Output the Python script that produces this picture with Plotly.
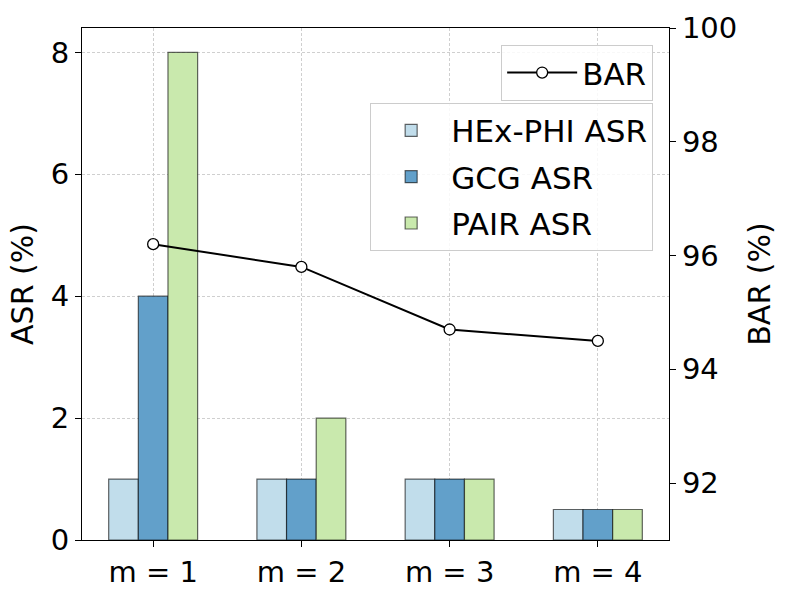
import plotly.graph_objects as go

### Données ###
categories = ["m = 1", "m = 2", "m = 3", "m = 4"]
hexphi_asr = [1, 1, 1, 0.5]
gcg_asr = [4, 1, 1, 0.5]
pair_asr = [8, 2, 1, 0.5]
bar_values = [96.2, 95.8, 94.7, 94.5]

asr_ticks = [0, 2, 4, 6, 8]
bar_ticks = [92, 94, 96, 98, 100]

FONT = "DejaVu Sans"
EDGE = "rgba(0,0,0,0.6)"
GRID = dict(showgrid=True, gridcolor="#cfcfcf", griddash="3px,2px", gridwidth=0.6)

fig = go.Figure()

# Barres ASR (axe gauche)
for name, vals, color in [
    ("HEx-PHI ASR", hexphi_asr, "#c1ddeb"),
    ("GCG ASR", gcg_asr, "#62a0ca"),
    ("PAIR ASR", pair_asr, "#c9e9ad"),
]:
    fig.add_trace(go.Bar(
        x=categories, y=vals, name=name,
        marker=dict(color=color, line=dict(color=EDGE, width=1.2)),
        legend="legend2", legendgroup=name, showlegend=True,
    ))

# Courbe BAR (axe droit)
fig.add_trace(go.Scatter(
    x=categories, y=bar_values, name="BAR", yaxis="y2",
    mode="lines+markers",
    line=dict(color="black", width=2),
    marker=dict(symbol="circle", size=11, color="white",
                line=dict(color="black", width=1.3)),
    legend="legend", showlegend=True,
))

axis_common = dict(
    showline=True, linecolor="black", linewidth=1.2,
    ticks="outside", ticklen=6, tickcolor="black", tickwidth=1.2,
    tickfont=dict(size=29, color="black"), automargin=False,
)

legend_common = dict(
    xanchor="right", yanchor="top",
    bgcolor="rgba(255,255,255,0.85)", bordercolor="#cccccc", borderwidth=1,
    font=dict(size=31), itemwidth=70,
)

fig.update_layout(
    width=793, height=595,
    margin=dict(l=82, r=124, t=28, b=55),
    paper_bgcolor="white", plot_bgcolor="white",
    font=dict(family=FONT, color="black"),
    showlegend=True,
    barmode="group", bargap=0.4, bargroupgap=0,
    xaxis=dict(range=[-0.48, 3.48], mirror=True, **GRID, **axis_common),
    yaxis=dict(
        range=[0, 8.4], tickvals=asr_ticks,
        title=dict(text="ASR (%)", font=dict(size=30), standoff=8),
        zeroline=False, **GRID, **axis_common,
    ),
    yaxis2=dict(
        range=[91, 100], tickvals=bar_ticks, overlaying="y", side="right",
        title=dict(text="BAR (%)", font=dict(size=30), standoff=12),
        showgrid=False, zeroline=False,
        **axis_common,
    ),
    legend=dict(x=0.973, y=0.967, **legend_common),
    legend2=dict(x=0.973, y=0.854, traceorder="grouped", tracegroupgap=3,
                 **legend_common),
)

# pas de marge du navigateur autour de la figure
fig.write_html("out.html", config={"displayModeBar": False},
               post_script="document.body.style.margin='0';")
